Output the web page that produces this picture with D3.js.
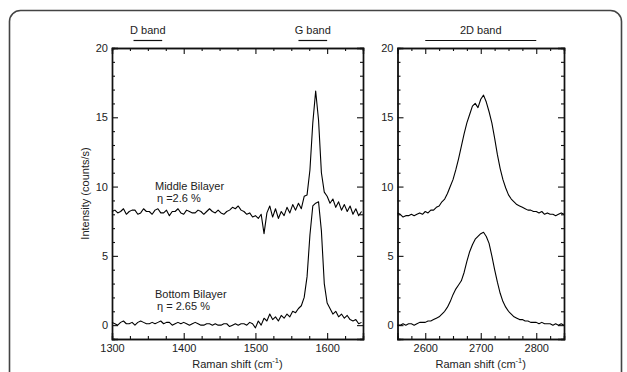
<!DOCTYPE html>
<html>
<head>
<meta charset="utf-8">
<script src="https://d3js.org/d3.v7.min.js"></script>
<style>
  body { margin: 0; background: #fff; }
  text { font-family: "Liberation Sans", Arial, sans-serif; fill: #222; }
</style>
</head>
<body>
<script>
// ---- data ----
// left panel (D / G region): samples every 4 cm-1 from 1300
const gStart = 1300, gStep = 4;
const gMiddle = [8.2, 8.3, 8.1, 8.2, 8.4, 8.0, 8.2, 8.3, 8.3, 8.0, 8.1, 8.4, 8.2, 8.2, 8.0, 8.3,
  8.4, 8.1, 8.1, 8.3, 7.9, 8.2, 8.2, 8.4, 8.1, 8.0, 8.3, 8.2, 8.1, 8.1, 8.3, 8.2,
  8.0, 8.2, 8.4, 8.2, 8.1, 8.3, 8.1, 8.0, 8.2, 8.3, 8.5, 8.4, 8.6, 8.3, 8.2, 8.0,
  8.1, 7.8, 7.9, 7.7, 8.0, 6.6, 8.1, 8.6, 7.8, 8.4, 7.7, 8.2, 7.9, 8.5, 8.1, 8.7,
  8.3, 8.8, 8.4, 9.3, 9.4, 11.2, 14.6, 16.9, 14.8, 11.0, 9.6, 9.3, 8.8, 9.1, 8.5, 8.9,
  8.3, 8.7, 8.2, 8.6, 8.0, 8.4, 7.9, 8.2];
const gBottom = [0.2, 0.1, 0.0, 0.2, 0.3, 0.1, 0.1, 0.2, 0.0, 0.2, 0.3, 0.2, 0.1, 0.1, 0.2, 0.1,
  0.2, 0.3, 0.1, 0.2, 0.2, 0.0, 0.1, 0.2, 0.1, 0.2, 0.1, 0.0, 0.1, 0.2, 0.1, 0.0,
  0.0, 0.1, 0.1, 0.0, 0.1, 0.0, 0.0, 0.1, 0.1, -0.1, 0.0, 0.1, 0.0, 0.1, 0.1, 0.0,
  0.2, 0.1, -0.2, 0.3, 0.0, 0.5, 0.3, 0.8, 0.4, 0.6, 0.3, 0.7, 0.5, 0.8, 0.6, 1.0,
  0.9, 1.2, 1.4, 2.0, 3.5, 6.5, 8.6, 8.8, 8.9, 6.8, 3.0, 1.6, 1.2, 0.8, 1.0, 0.6,
  0.8, 0.5, 0.7, 0.4, 0.3, 0.4, 0.1, 0.2];

// right panel (2D region): samples every 5 cm-1 from 2550
const dStart = 2550, dStep = 5;
const dMiddle = [8.1, 8.0, 7.8, 7.9, 7.9, 8.0, 7.9, 8.0, 8.1, 8.0, 8.2, 8.1, 8.3, 8.3, 8.5, 8.6,
  8.9, 9.1, 9.5, 10.0, 10.5, 11.2, 12.0, 12.9, 13.8, 14.6, 15.2, 15.8, 16.0, 15.7, 16.3, 16.6,
  16.1, 15.4, 14.6, 13.5, 12.3, 11.3, 10.5, 9.9, 9.4, 9.1, 8.9, 8.7, 8.6, 8.5, 8.4, 8.3,
  8.3, 8.2, 8.2, 8.1, 8.2, 8.0, 8.1, 8.0, 8.0, 7.9, 8.0, 8.1, 8.0];
const dBottom = [0.0, 0.0, 0.1, 0.0, 0.1, 0.1, 0.0, 0.1, 0.2, 0.2, 0.2, 0.3, 0.3, 0.4, 0.5, 0.6,
  0.8, 1.0, 1.3, 1.7, 2.2, 2.6, 2.9, 3.2, 3.8, 4.6, 5.3, 5.8, 6.2, 6.4, 6.6, 6.7,
  6.4, 5.9, 5.0, 4.0, 3.1, 2.3, 1.7, 1.3, 1.0, 0.8, 0.6, 0.5, 0.4, 0.4, 0.3, 0.3,
  0.2, 0.2, 0.2, 0.1, 0.2, 0.1, 0.1, 0.1, 0.0, 0.1, 0.0, 0.1, 0.0];

const yDomain = [-1, 20];
const yTicks = [0, 5, 10, 15, 20];
const leftDomain = [1300, 1650];
const leftTicks = [1300, 1400, 1500, 1600];
const rightDomain = [2550, 2850];
const rightTicks = [2600, 2700, 2800];
const bandNames = ["D band", "G band", "2D band"];
const bandRanges = [[1330, 1370], [1560, 1600], [2600, 2800]];
const curveNotes = [["Middle Bilayer", "η =2.6 %"], ["Bottom Bilayer", "η  = 2.65 %"]];
const noteAt = [[1360, 9.75], [1360, 1.95]];

// ---- layout ----
const W = 627, H = 372;
const plotTop = 48, plotBottom = 339;

const svg = d3.select("body").append("svg")
  .attr("width", W).attr("height", H);

// rounded frame
svg.append("rect")
  .attr("x", 9.5).attr("y", 10.5)
  .attr("width", 612).attr("height", 420)
  .attr("rx", 11)
  .attr("fill", "none").attr("stroke", "#444").attr("stroke-width", 1.6);

const y = d3.scaleLinear().domain(yDomain).range([plotBottom, plotTop]);

function panel(x0, x1, domain, ticks, start, step, series) {
  const x = d3.scaleLinear().domain(domain).range([x0, x1]);
  const g = svg.append("g");
  const minorX = d3.range(domain[0], domain[1] + 1, 25).filter(v => v % 100 !== 0);
  const minorY = d3.range(0, 21, 1).filter(v => v % 5 !== 0);
  const majorX = d3.range(Math.ceil(domain[0] / 100) * 100, domain[1] + 1, 100);

  // major + labels on bottom/left
  g.append("g").attr("transform", `translate(0,${plotBottom})`)
    .call(d3.axisBottom(x).tickValues(ticks).tickSize(-6).tickPadding(5).tickFormat(d3.format("d")));
  g.append("g").attr("transform", `translate(${x0},0)`)
    .call(d3.axisLeft(y).tickValues(yTicks).tickSize(-6).tickPadding(4));
  // minor ticks
  g.append("g").attr("transform", `translate(0,${plotBottom})`)
    .call(d3.axisBottom(x).tickValues(minorX).tickSize(-3).tickFormat(""));
  g.append("g").attr("transform", `translate(${x0},0)`)
    .call(d3.axisLeft(y).tickValues(minorY).tickSize(-3).tickFormat(""));
  // mirrored top / right
  g.append("g").attr("transform", `translate(0,${plotTop})`)
    .call(d3.axisTop(x).tickValues(majorX).tickSize(-6).tickFormat(""));
  g.append("g").attr("transform", `translate(0,${plotTop})`)
    .call(d3.axisTop(x).tickValues(minorX).tickSize(-3).tickFormat(""));
  g.append("g").attr("transform", `translate(${x1},0)`)
    .call(d3.axisRight(y).tickValues(yTicks).tickSize(-6).tickFormat(""));
  g.append("g").attr("transform", `translate(${x1},0)`)
    .call(d3.axisRight(y).tickValues(minorY).tickSize(-3).tickFormat(""));

  g.selectAll(".domain").attr("stroke", "#111").attr("stroke-width", 1.4);
  g.selectAll(".tick line").attr("stroke", "#111").attr("stroke-width", 1.1);
  g.selectAll(".tick text").attr("font-size", 11).attr("fill", "#222")
    .style("font-family", "Liberation Sans, Arial, sans-serif");

  const line = d3.line()
    .x((d, i) => x(start + i * step))
    .y(d => y(d));
  series.forEach(s => {
    g.append("path").datum(s)
      .attr("fill", "none").attr("stroke", "#000")
      .attr("stroke-width", 1.1).attr("stroke-linejoin", "round")
      .attr("d", line);
  });

  // x title
  const t = g.append("text")
    .attr("x", (x0 + x1) / 2).attr("y", 368)
    .attr("text-anchor", "middle").attr("font-size", 11);
  t.append("tspan").text("Raman shift (cm");
  t.append("tspan").attr("font-size", 7.5).attr("dy", -5).text("-1");
  t.append("tspan").attr("dy", 5).text(")");
  return x;
}

const xL = panel(112, 363, leftDomain, leftTicks, gStart, gStep, [gMiddle, gBottom]);
const xR = panel(397.5, 564, rightDomain, rightTicks, dStart, dStep, [dMiddle, dBottom]);

// band markers
bandNames.forEach((name, i) => {
  const sx = i < 2 ? xL : xR;
  const r = bandRanges[i];
  svg.append("line")
    .attr("x1", sx(r[0])).attr("x2", sx(r[1]))
    .attr("y1", 40.5).attr("y2", 40.5)
    .attr("stroke", "#111").attr("stroke-width", 1.2);
  svg.append("text")
    .attr("x", sx((r[0] + r[1]) / 2)).attr("y", 34)
    .attr("text-anchor", "middle").attr("font-size", 11)
    .text(name);
});

// curve notes
curveNotes.forEach((lines, i) => {
  const t = svg.append("text")
    .attr("x", xL(noteAt[i][0])).attr("y", y(noteAt[i][1]))
    .attr("font-size", 11);
  t.append("tspan").attr("x", xL(noteAt[i][0])).text(lines[0]);
  t.append("tspan").attr("x", xL(noteAt[i][0]) + 2).attr("dy", 11.5).text(lines[1]);
});

// y title
svg.append("text")
  .attr("transform", `translate(89,${(plotTop + plotBottom) / 2}) rotate(-90)`)
  .attr("text-anchor", "middle").attr("font-size", 11)
  .text("Intensity (counts/s)");
</script>
</body>
</html>
